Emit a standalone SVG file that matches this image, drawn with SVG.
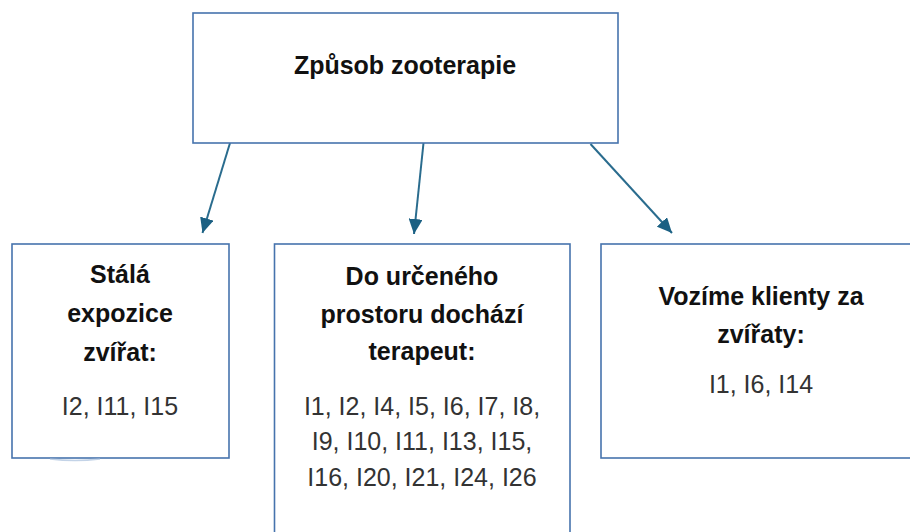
<svg xmlns="http://www.w3.org/2000/svg" width="910" height="532" viewBox="0 0 910 532">
  <defs>
    <marker id="arrow" markerUnits="userSpaceOnUse" markerWidth="16" markerHeight="14" refX="15" refY="7" orient="auto">
      <path d="M0,0 L15,7 L0,14 Z" fill="#1b6083"/>
    </marker>
    <style>
      .box { fill: #ffffff; stroke: #4673ad; stroke-width: 1.6; }
      .conn { stroke: #2a6c8e; stroke-width: 2; fill: none; marker-end: url(#arrow); }
      .h { font-family: "Liberation Sans", Arial, sans-serif; font-weight: bold; font-size: 25px; fill: #111111; text-anchor: middle; }
      .t { font-family: "Liberation Sans", Arial, sans-serif; font-size: 25px; fill: #333333; text-anchor: middle; }
    </style>
  </defs>
  <rect width="910" height="532" fill="#ffffff"/>

  <g id="connectors">
    <line class="conn" x1="230" y1="143" x2="202.5" y2="233"/>
    <line class="conn" x1="423.5" y1="143" x2="414" y2="234"/>
    <line class="conn" x1="590.5" y1="144" x2="672" y2="233"/>
  </g>

  <g id="node-root">
    <rect class="box" x="193" y="13" width="425" height="130"/>
    <text class="h" x="405" y="74">Způsob zooterapie</text>
  </g>

  <g id="node-stala">
    <rect class="box" x="12" y="244" width="217" height="214"/>
    <path d="M50 459 Q75 462 100 459" stroke="#a9c0dd" stroke-width="1.5" fill="none" opacity="0.7"/>
    <text class="h" x="120" y="283">Stálá</text>
    <text class="h" x="120" y="322">expozice</text>
    <text class="h" x="120" y="361">zvířat:</text>
    <text class="t" x="120" y="415">I2, I11, I15</text>
  </g>

  <g id="node-terapeut">
    <rect class="box" x="274.5" y="244" width="295.5" height="300"/>
    <text class="h" x="422" y="285">Do určeného</text>
    <text class="h" x="422" y="323">prostoru dochází</text>
    <text class="h" x="422" y="360">terapeut:</text>
    <text class="t" x="422" y="415">I1, I2, I4, I5, I6, I7, I8,</text>
    <text class="t" x="422" y="450">I9, I10, I11, I13, I15,</text>
    <text class="t" x="422" y="486">I16, I20, I21, I24, I26</text>
  </g>

  <g id="node-vozime">
    <rect class="box" x="601" y="244" width="320" height="214"/>
    <text class="h" x="761" y="305">Vozíme klienty za</text>
    <text class="h" x="761" y="343">zvířaty:</text>
    <text class="t" x="761" y="393">I1, I6, I14</text>
  </g>
</svg>
